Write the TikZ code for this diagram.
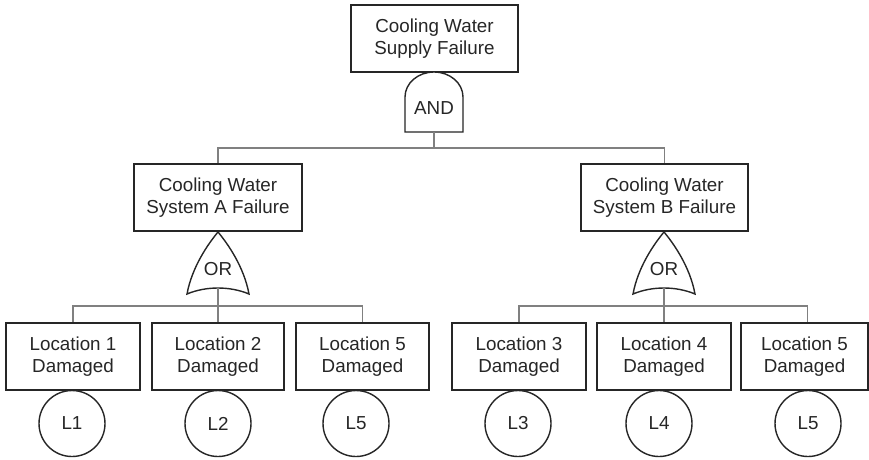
\documentclass[tikz,border=0pt]{standalone}
\usepackage{fontspec}
\setmainfont{Liberation Sans}
\begin{document}
\begin{tikzpicture}[x=1pt,y=-1pt,
  lbl/.style={font=\fontsize{18.8}{21.5}\selectfont, text=black!85},
  box/.style={lbl, draw=black!85, line width=1.6pt, fill=white,
    minimum height=67pt, inner sep=0pt, align=center},
  event/.style={lbl, draw=black!85, line width=1.4pt, fill=white, circle,
    minimum size=66pt, inner sep=0pt},
  gate/.style={draw=black!85, line width=1.4pt, fill=white},
  wire/.style={draw=black!50, line width=1.3pt},
  orgate/.pic={
    \draw[gate] (0,0) .. controls (-10,12) and (-26,35) .. (-31,62)
      .. controls (-12,54) and (12,54) .. (31,62)
      .. controls (26,35) and (10,12) .. (0,0) -- cycle;
    \coordinate (-out) at (0,56);
    \node[lbl] (-txt) at (0,37) {OR};
  }]
\useasboundingbox (0,0) rectangle (869,459);
\fill[white] (0,0) rectangle (869,459);

% top event and AND gate
\node[box, minimum width=167pt] (top) at (434.5,38.5) {Cooling Water\\Supply Failure};
\draw[gate] (405,132) -- (405,97) arc[start angle=180, end angle=0, x radius=29pt, y radius=25pt]
  -- (463,132) -- cycle;
\node[lbl] (andtxt) at (434,108) {AND};
\coordinate (andout) at (434,132);

% system failures
\node[box, minimum width=168pt] (sysA) at (218,197.5) {Cooling Water\\System A Failure};
\node[box, minimum width=167pt] (sysB) at (664.5,197.5) {Cooling Water\\System B Failure};
\draw[wire] (andout) -- ++(0,16) -| (sysA.north);
\draw[wire] (andout) -- ++(0,16) -| (sysB.north);

% OR gates
\pic (orA) at (218,232) {orgate};
\pic (orB) at (664,232) {orgate};

% basic events
\node[box, minimum width=134pt] (c1) at (73,356.5) {Location 1\\Damaged};
\node[box, minimum width=132pt] (c2) at (218,356.5) {Location 2\\Damaged};
\node[box, minimum width=133pt] (c3) at (362.5,356.5) {Location 5\\Damaged};
\node[box, minimum width=134pt] (c4) at (519,356.5) {Location 3\\Damaged};
\node[box, minimum width=134pt] (c5) at (664,356.5) {Location 4\\Damaged};
\node[box, minimum width=127pt] (c6) at (804.5,356.5) {Location 5\\Damaged};

\draw[wire] (orA-out) -- ++(0,18) -| (c1.north);
\draw[wire] (orA-out) -- (c2.north);
\draw[wire] (orA-out) -- ++(0,18) -| (c3.north);
\draw[wire] (orB-out) -- ++(0,18) -| (c4.north);
\draw[wire] (orB-out) -- (c5.north);
\draw[wire] (orB-out) -- ++(0,18) -| ([xshift=3pt]c6.north);

\node[event] (e1) at (72,423.5) {L1};
\node[event] (e2) at (218,423.5) {L2};
\node[event] (e3) at (356,423.5) {L5};
\node[event] (e4) at (518,423.5) {L3};
\node[event] (e5) at (659,423.5) {L4};
\node[event] (e6) at (808,423.5) {L5};
\end{tikzpicture}
\end{document}
